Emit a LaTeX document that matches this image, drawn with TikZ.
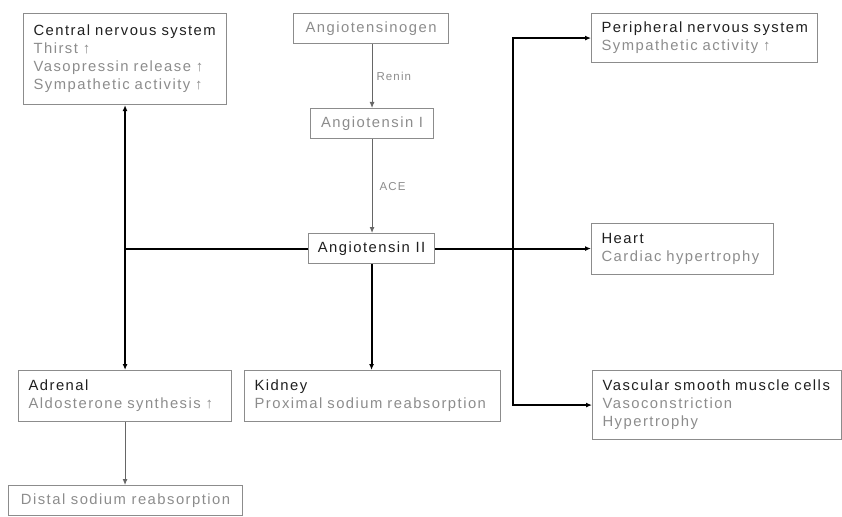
\documentclass[tikz,border=0pt]{standalone}
\usepackage{fontspec}
\setmainfont{Liberation Sans}[LetterSpace=10]
\usetikzlibrary{arrows.meta}
\definecolor{boxgray}{gray}{0.55}
\definecolor{subgray}{gray}{0.55}
\definecolor{titlegray}{gray}{0.12}
\tikzset{
	organ/.style={draw=boxgray, line width=1.1pt, anchor=north west, inner xsep=10pt, inner ysep=0pt, align=left, text=subgray, font=\fontsize{14.8}{18}\selectfont},
	plain/.style={draw=boxgray, line width=1.1pt, anchor=north west, inner sep=0pt, text=subgray, font=\fontsize{14.8}{18}\selectfont},
	main/.style={line width=2pt, black},
	cascade/.style={line width=0.9pt, gray!80!black},
	enzyme/.style={right, text=subgray, font=\fontsize{11.5}{14}\selectfont, inner sep=4pt},
	>={Latex[length=6pt,width=5pt]}
}
\begin{document}
\begin{tikzpicture}[x=1pt,y=-1pt]
		\useasboundingbox (0,0) rectangle (842,516);
		\def\title#1{\mbox{\textcolor{titlegray}{#1}}}
		\def\row#1{\mbox{#1}}
		\def\up{ ↑}
		% renin-angiotensin cascade
			\node [plain, minimum width=155pt, minimum height=30pt] (ogen) at (293,13) {Angiotensinogen};
			\node [plain, minimum width=123pt, minimum height=30pt] (ang1) at (310,108) {Angiotensin I};
			\node [plain, minimum width=126pt, minimum height=30pt, text=titlegray] (ang2) at (308,233) {Angiotensin II};
			\draw [cascade, ->] (ang1.north |- ogen.south) -- node [enzyme] {Renin} (ang1.north);
			\draw [cascade, ->] (ang1.south) -- node [enzyme, xshift=3pt] {ACE} (ang1.south |- ang2.north);
		% target organs
			\node [organ, minimum width=203pt, minimum height=91pt, text width=183pt] (cns) at (23,13)
				{\title{Central nervous system}\\\row{Thirst\up}\\\row{Vasopressin release\up}\\\row{Sympathetic activity\up}};
			\node [organ, minimum width=226pt, minimum height=49pt, text width=206pt] (pns) at (591,13)
				{\title{Peripheral nervous system}\\\row{Sympathetic activity\up}};
			\node [organ, minimum width=182pt, minimum height=51pt, text width=162pt] (heart) at (591,223)
				{\title{Heart}\\\row{Cardiac hypertrophy}};
			\node [organ, minimum width=249pt, minimum height=69pt, text width=229pt] (vsmc) at (592,370)
				{\title{Vascular smooth muscle cells}\\\row{Vasoconstriction}\\\row{Hypertrophy}};
			\node [organ, minimum width=213pt, minimum height=51pt, text width=193pt] (adrenal) at (18,370)
				{\title{Adrenal}\\\row{Aldosterone synthesis\up}};
			\node [organ, minimum width=256pt, minimum height=51pt, text width=236pt] (kidney) at (244,370)
				{\title{Kidney}\\\row{Proximal sodium reabsorption}};
			\node [plain, minimum width=234pt, minimum height=30pt] (distal) at (8,485) {Distal sodium reabsorption};
		% left branch
			\coordinate (lj) at (ang2.west -| cns.south);
			\draw [main] (ang2.west) -- (lj);
			\draw [main, <->] (cns.south) -- (adrenal.north);
			\draw [cascade, ->] (adrenal.south) -- (adrenal.south |- distal.north);
		% kidney
			\draw [main, ->] (ang2.south) -- (ang2.south |- kidney.north);
		% right branch
			\coordinate (rj) at (513,248);
			\draw [main, ->] (ang2.east) -- (ang2.east -| heart.west);
			\draw [main, ->] (rj) |- (pns.west);
			\draw [main, ->] (rj) |- (vsmc.west);
	\end{tikzpicture}
\end{document}
